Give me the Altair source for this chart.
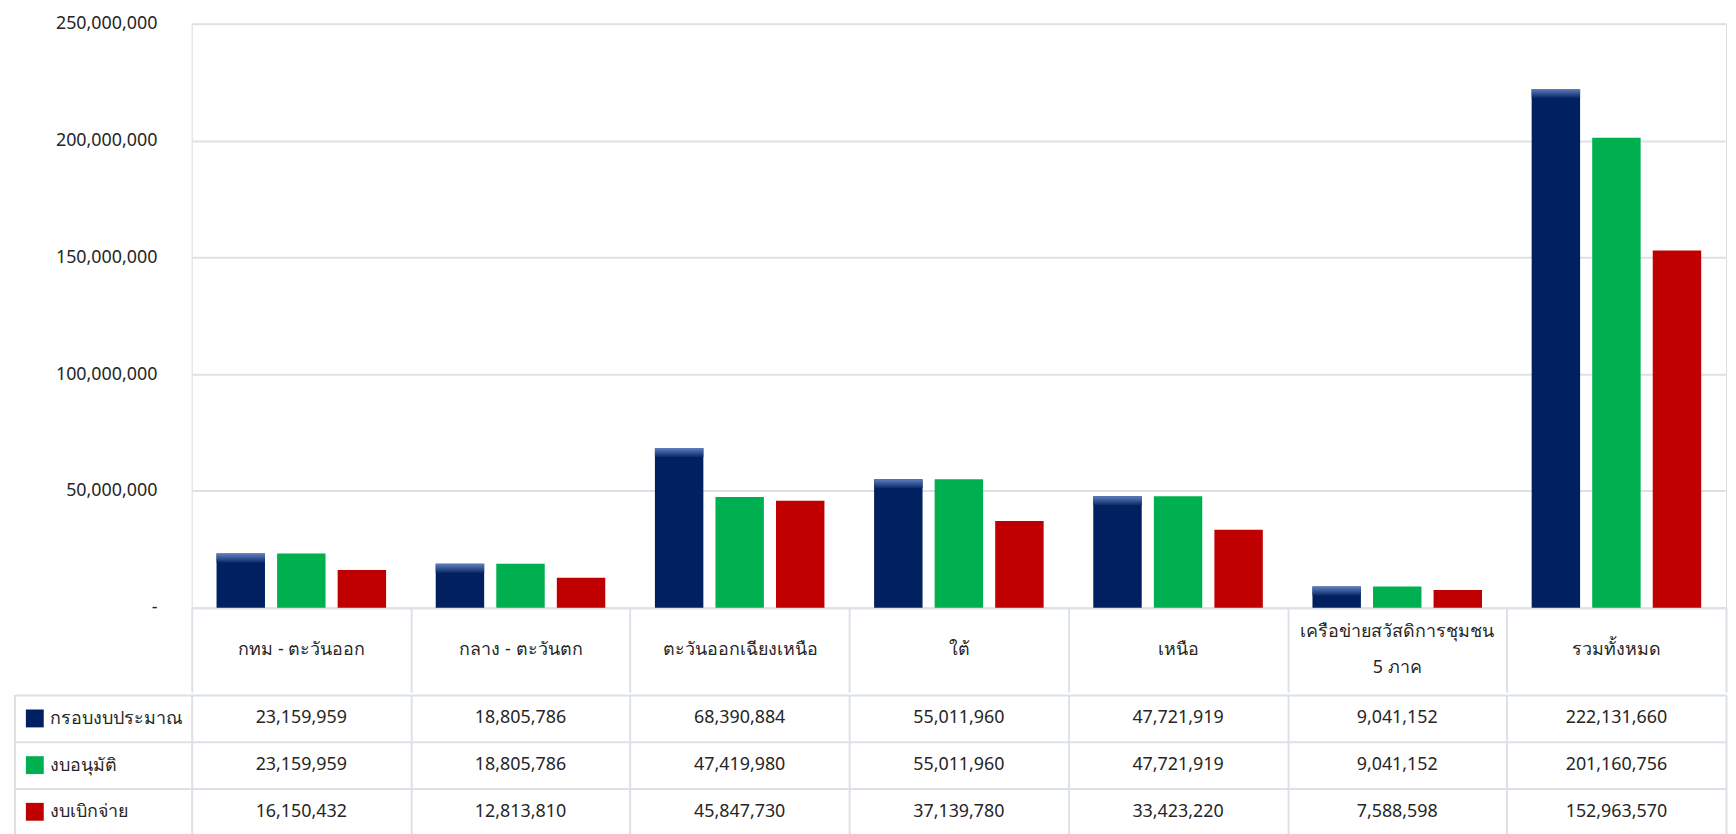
import altair as alt
import pandas as pd

categories = [
    "กทม - ตะวันออก",
    "กลาง - ตะวันตก",
    "ตะวันออกเฉียงเหนือ",
    "ใต้",
    "เหนือ",
    "เครือข่ายสวัสดิการชุมชน 5 ภาค",
    "รวมทั้งหมด",
]
long_label_lines = ["เครือข่ายสวัสดิการชุมชน", "5 ภาค"]
series = ["กรอบงบประมาณ", "งบอนุมัติ", "งบเบิกจ่าย"]
budget_frame = [23159959, 18805786, 68390884, 55011960, 47721919, 9041152, 222131660]
approved = [23159959, 18805786, 47419980, 55011960, 47721919, 9041152, 201160756]
disbursed = [16150432, 12813810, 45847730, 37139780, 33423220, 7588598, 152963570]
colors = ["#002060", "#00B050", "#C00000"]
y_ticks = [0, 50000000, 100000000, 150000000, 200000000, 250000000]

rows = []
for s, vals in zip(series, [budget_frame, approved, disbursed]):
    for c, v in zip(categories, vals):
        rows.append({"cat": c, "series": s, "value": v})
df = pd.DataFrame(rows)

FONT = "Noto Sans"
TXT = "#262626"
BORDER = "#DCE1E8"
PLOT_W = 1545
BAR_H = 588
HEAD_H = 85
ROW_H = 47
LEG_W = 178

x_scale = alt.Scale(domain=categories, paddingInner=0, paddingOuter=0)
off_scale = alt.Scale(domain=series, paddingInner=0.2, paddingOuter=0.41)
color_scale = alt.Scale(domain=series, range=colors)

long_label = categories[5]
label_expr = f"datum.label == '{long_label}' ? '' : datum.label"

x_bar = alt.X(
    "cat:N",
    scale=x_scale,
    sort=categories,
    axis=alt.Axis(
        title=None,
        orient="bottom",
        labelExpr=label_expr,
        labelFontSize=18,
        labelFont=FONT,
        labelColor=TXT,
        labelAngle=0,
        labelBaseline="middle",
        labelPadding=-43,
        labelLimit=400,
        ticks=True,
        tickBand="extent",
        tickSize=HEAD_H,
        tickColor=BORDER,
        tickWidth=2,
        domainColor=BORDER,
        domainWidth=2,
        grid=False,
    ),
)

y_bar = alt.Y(
    "value:Q",
    scale=alt.Scale(domain=[0, 250000000]),
    axis=alt.Axis(
        title=None,
        values=y_ticks,
        labelExpr="datum.value == 0 ? '-\u00a0\u00a0\u00a0\u00a0\u00a0\u00a0' : format(datum.value, ',')",
        labelFontSize=18,
        labelFont=FONT,
        labelColor=TXT,
        labelPadding=35,
        ticks=False,
        domain=False,
        grid=True,
        gridColor=BORDER,
        gridWidth=2,
    ),
)

bars = alt.Chart(df).mark_bar().encode(
    x=x_bar,
    xOffset=alt.XOffset("series:N", scale=off_scale),
    y=y_bar,
    color=alt.Color("series:N", scale=color_scale, legend=None),
)

bevel = (
    alt.Chart(df)
    .transform_filter(alt.datum.series == series[0])
    .mark_bar(
        y2Offset=9,
        color=alt.Gradient(
            gradient="linear",
            stops=[
                alt.GradientStop(color="#5f7fbf", offset=0),
                alt.GradientStop(color="#0b2a68", offset=1),
            ],
            x1=0, x2=0, y1=0, y2=1,
        ),
    )
    .encode(
        x=x_bar,
        xOffset=alt.XOffset("series:N", scale=off_scale),
        y=y_bar,
        y2=alt.Y2("value:Q"),
    )
)

long_df = pd.DataFrame({"cat": [long_label], "l1": [long_label_lines[0]], "l2": [long_label_lines[1]]})
head1 = alt.Chart(long_df).mark_text(
    fontSize=18, font=FONT, color=TXT, baseline="middle", dy=-18.5
).encode(x=x_bar, y=alt.value(BAR_H + HEAD_H / 2), text="l1:N")
head2 = alt.Chart(long_df).mark_text(
    fontSize=18, font=FONT, color=TXT, baseline="middle", dy=18.5
).encode(x=x_bar, y=alt.value(BAR_H + HEAD_H / 2), text="l2:N")

top = alt.layer(bars, bevel, head1, head2).properties(width=PLOT_W, height=BAR_H)

y_tab = alt.Y(
    "series:N",
    scale=alt.Scale(domain=series, paddingInner=0, paddingOuter=0),
    sort=series,
    axis=alt.Axis(
        title=None,
        orient="left",
        grid=True,
        gridColor=BORDER,
        gridWidth=2,
        tickBand="extent",
        ticks=True,
        tickSize=LEG_W,
        tickColor=BORDER,
        tickWidth=2,
        domain=False,
        labelAlign="left",
        labelPadding=-35,
        labelFontSize=18,
        labelFont=FONT,
        labelColor=TXT,
        labelLimit=300,
    ),
)
x_tab = alt.X(
    "cat:N",
    scale=x_scale,
    sort=categories,
    axis=alt.Axis(
        title=None,
        labels=False,
        ticks=False,
        domain=False,
        grid=True,
        gridColor=BORDER,
        gridWidth=2,
        tickBand="extent",
    ),
)

cells = alt.Chart(df).mark_text(fontSize=18, font=FONT, color=TXT).encode(
    x=x_tab,
    y=y_tab,
    text=alt.Text("value:Q", format=","),
)

legend_sq = (
    alt.Chart(pd.DataFrame({"series": series}))
    .mark_square(size=324, opacity=1)
    .encode(
        x=alt.value(-158),
        y=y_tab,
        color=alt.Color("series:N", scale=color_scale, legend=None),
    )
)

left_border = (
    alt.Chart(pd.DataFrame({"series": series}))
    .mark_rule(color=BORDER, strokeWidth=2)
    .encode(x=alt.value(-LEG_W), y=alt.value(0), y2=alt.value(3 * ROW_H))
)

table = alt.layer(cells, legend_sq, left_border).properties(width=PLOT_W, height=3 * ROW_H)

chart = (
    alt.vconcat(top, table, spacing=-9)
    .properties(padding={"left": 5, "top": 3, "right": 0, "bottom": 0})
    .configure_view(stroke=None)
    .configure(background="white")
)

chart.save("out.html", embed_options={"renderer": "svg", "actions": False})
